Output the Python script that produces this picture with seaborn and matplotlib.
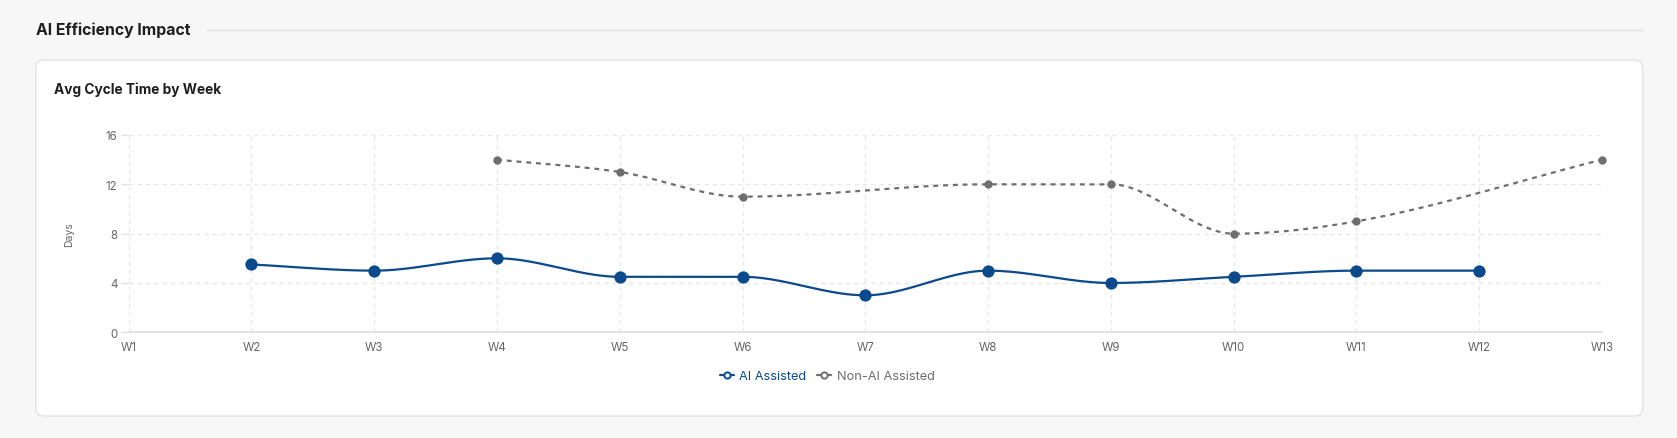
import numpy as np
import pandas as pd
import matplotlib
matplotlib.use("Agg")
import matplotlib.pyplot as plt
import seaborn as sns
from matplotlib.patches import FancyBboxPatch
from matplotlib.lines import Line2D

# Dados
weeks = ["W1", "W2", "W3", "W4", "W5", "W6", "W7", "W8", "W9", "W10", "W11", "W12", "W13"]
ai_assisted = [None, 5.5, 5, 6, 4.5, 4.5, 3, 5, 4, 4.5, 5, 5, None]
non_ai_assisted = [None, None, None, 14, 13, 11, None, 12, 12, 8, 9, None, 14]

AI_COLOR = "#0B4A8C"
NON_AI_COLOR = "#6E6E6E"


# Curva monotona (mesmo esquema do Chart.js 'monotone')
def curva_monotona(xs, ys, n=40):
    xs = np.asarray(xs, float)
    ys = np.asarray(ys, float)
    k = len(xs)
    delta = np.diff(ys) / np.diff(xs)
    m = np.zeros(k)
    m[0] = delta[0]
    m[-1] = delta[-1]
    for i in range(1, k - 1):
        if delta[i - 1] == 0 or delta[i] == 0 or np.sign(delta[i - 1]) != np.sign(delta[i]):
            m[i] = 0
        else:
            m[i] = (delta[i - 1] + delta[i]) / 2
    for i in range(k - 1):
        if delta[i] == 0:
            m[i] = m[i + 1] = 0
            continue
        a = m[i] / delta[i]
        b = m[i + 1] / delta[i]
        s = a * a + b * b
        if s > 9:
            t = 3 / np.sqrt(s)
            m[i] = a * t * delta[i]
            m[i + 1] = b * t * delta[i]
    out_x, out_y = [], []
    for i in range(k - 1):
        h = xs[i + 1] - xs[i]
        t = np.linspace(0, 1, n)
        h00 = 2 * t**3 - 3 * t**2 + 1
        h10 = t**3 - 2 * t**2 + t
        h01 = -2 * t**3 + 3 * t**2
        h11 = t**3 - t**2
        out_x.extend(xs[i] + t * h)
        out_y.extend(h00 * ys[i] + h10 * h * m[i] + h01 * ys[i + 1] + h11 * h * m[i + 1])
    return np.array(out_x), np.array(out_y)


def pontos(valores):
    df = pd.DataFrame({"x": range(len(weeks)), "y": valores}).dropna()
    return df


sns.set_theme(style="white")
plt.rcParams["font.family"] = ["Inter", "DejaVu Sans"]

fig = plt.figure(figsize=(16.77, 4.39), dpi=100, facecolor="#F7F7F7")

# Cartao branco
card = FancyBboxPatch((0.357, 0.22), 16.07, 3.56,
                      boxstyle="round,pad=0,rounding_size=0.08",
                      transform=fig.dpi_scale_trans,
                      facecolor="white", edgecolor="#E2E2E2", linewidth=1, zorder=-5)
fig.patches.append(card)

# Titulos
fig.text(36 / 1677, 1 - 30.5 / 439, "AI Efficiency Impact", fontsize=11.4, fontweight="bold",
         color="#1F1F1F", va="center", ha="left")
fig.add_artist(Line2D([207 / 1677, 1643 / 1677], [1 - 30.5 / 439, 1 - 30.5 / 439],
                      color="#E2E2E2", linewidth=1, transform=fig.transFigure))
fig.text(54 / 1677, 1 - 90 / 439, "Avg Cycle Time by Week", fontsize=9.9, fontweight="bold",
         color="#1F1F1F", va="center", ha="left")

ax = fig.add_axes([128.7 / 1677, 1 - 333.3 / 439, (1602 - 128.7) / 1677, (333.3 - 136) / 439])
ax.set_facecolor("none")

ai = pontos(ai_assisted)
non_ai = pontos(non_ai_assisted)

cx, cy = curva_monotona(ai["x"], ai["y"])
sns.lineplot(x=cx, y=cy, ax=ax, color=AI_COLOR, linewidth=1.6, sort=False, estimator=None)
sns.scatterplot(data=ai, x="x", y="y", ax=ax, color=AI_COLOR, s=78, linewidth=0, zorder=5, clip_on=False)

nx, ny = curva_monotona(non_ai["x"], non_ai["y"])
sns.lineplot(x=nx, y=ny, ax=ax, color=NON_AI_COLOR, linewidth=1.6, sort=False, estimator=None)
ax.lines[-1].set_dashes((2.2, 2.2))
sns.scatterplot(data=non_ai, x="x", y="y", ax=ax, color=NON_AI_COLOR, s=36, linewidth=0, zorder=5,
                clip_on=False)

# Eixos
ax.set_xlim(0, len(weeks) - 1)
ax.set_ylim(0, 16)
ax.set_xticks(range(len(weeks)))
ax.set_xticklabels(weeks)
ax.set_yticks([0, 4, 8, 12, 16])
ax.grid(True, color="#E6E6E6", linestyle=(0, (3, 3)), linewidth=1)
ax.set_axisbelow(True)
for lado in ["top", "right", "left"]:
    ax.spines[lado].set_visible(False)
ax.spines["bottom"].set_color("#E2E2E2")
ax.spines["bottom"].set_linewidth(1.5)
ax.tick_params(axis="y", length=6, width=1, color="#E2E2E2", labelsize=8.3, labelcolor="#666666", pad=2,
               left=True)
ax.tick_params(axis="x", length=0, labelsize=8.3, labelcolor="#666666", pad=6)
ax.set_xlabel("")
ax.set_ylabel("Days", fontsize=7.5, color="#666666", labelpad=23)

# Legenda
handles = [
    Line2D([0], [0], color=AI_COLOR, linewidth=1.6, marker="o", markersize=4.5,
           markerfacecolor="white", markeredgewidth=1.4),
    Line2D([0], [0], color=NON_AI_COLOR, linewidth=1.6, marker="o", markersize=4.5,
           markerfacecolor="white", markeredgewidth=1.4),
]
fig.legend(handles, ["AI Assisted", "Non-AI Assisted"], loc="center",
           bbox_to_anchor=(827 / 1677, 1 - 377 / 439), ncol=2, frameon=False,
           fontsize=9.2, labelcolor="linecolor", handlelength=1.1, handletextpad=0.4,
           columnspacing=0.9)

fig.savefig("out.png", dpi=100, facecolor=fig.get_facecolor())
